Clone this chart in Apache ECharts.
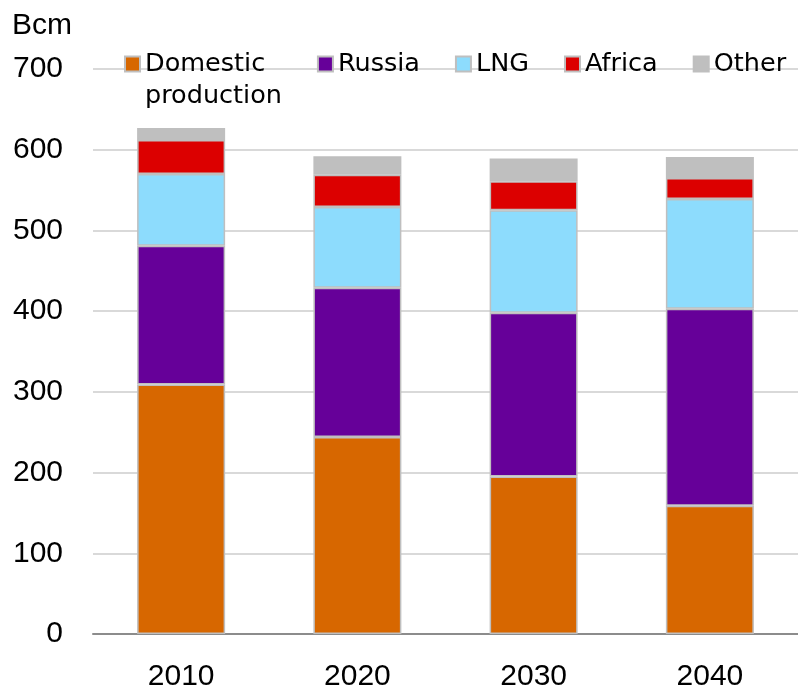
<!DOCTYPE html>
<html>
<head>
<meta charset="utf-8">
<script src="https://cdn.jsdelivr.net/npm/echarts@6/dist/echarts.min.js"></script>
<style>
  html, body { margin: 0; padding: 0; background: #fff; }
  #chart { width: 798px; height: 692px; }
</style>
</head>
<body>
<div id="chart"></div>
<script>
// years on the x axis
const years = ['2010', '2020', '2030', '2040'];

// supply by source, Bcm
const domestic = [309, 244, 195, 159];
const russia = [172, 185, 203, 244];
const lng = [89, 100, 127, 136];
const africa = [42, 40, 36, 26];
const other = [15, 23, 28, 26];

const seriesNames = ['Domestic production', 'Russia', 'LNG', 'Africa', 'Other'];
const seriesColors = ['#d76700', '#660099', '#8ddcfd', '#dc0000', '#bfbfbf'];
const seriesData = [domestic, russia, lng, africa, other];

const chart = echarts.init(document.getElementById('chart'));

const axisFont = 'Liberation Sans, Arial, sans-serif';

const options = {
    animation: false,
    title: {
        text: 'Bcm',
        left: 7,
        top: 6,
        textStyle: { fontFamily: axisFont, fontSize: 30, fontWeight: 'normal', color: '#000' }
    },
    legend: {
        left: 124,
        top: 16,
        padding: 0,
        icon: 'rect',
        itemWidth: 15,
        itemHeight: 15,
        itemGap: 35,
        data: seriesNames,
        // empty first line keeps "Domestic" level with its marker, "production" wraps below
        formatter: (name) => name === 'Domestic production' ? '\nDomestic\nproduction' : name,
        textStyle: {
            fontFamily: 'DejaVu Sans, sans-serif',
            fontSize: 25.5,
            lineHeight: 32,
            color: '#000'
        }
    },
    grid: {
        left: 93,
        right: 0,
        top: 69,
        bottom: 56
    },
    xAxis: {
        type: 'category',
        data: years,
        axisTick: { show: false },
        axisLine: { lineStyle: { color: '#8c8c8c', width: 2 } },
        axisLabel: { fontFamily: axisFont, fontSize: 30, color: '#000', margin: 28 }
    },
    yAxis: {
        type: 'value',
        min: 0,
        max: 700,
        interval: 100,
        axisLine: { show: false },
        axisTick: { show: false },
        axisLabel: { fontFamily: axisFont, fontSize: 30, color: '#000', margin: 30 },
        splitLine: { lineStyle: { color: '#d9d9d9', width: 2 } }
    },
    series: seriesData.map((d, i) => ({
        name: seriesNames[i],
        type: 'bar',
        stack: 'total',
        data: d,
        barWidth: 88,
        itemStyle: {
            color: seriesColors[i],
            borderColor: '#bfbfbf',
            borderWidth: 1.5
        }
    }))
};

chart.setOption(options);
</script>
</body>
</html>
